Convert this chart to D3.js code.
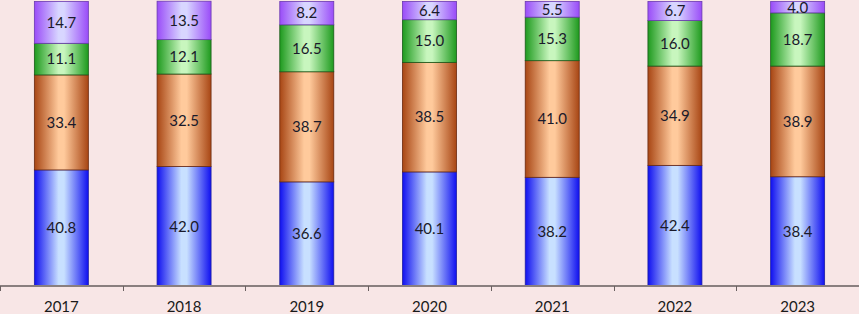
<!DOCTYPE html>
<html>
<head>
<meta charset="utf-8">
<script src="https://cdn.jsdelivr.net/npm/d3@7"></script>
<style>
  html, body { margin: 0; padding: 0; background: #f8e6e6; }
  svg { display: block; font-family: Lato, "Open Sans", sans-serif; }
</style>
</head>
<body>
<div id="chart"></div>
<script>
// Données
const years = ["2017", "2018", "2019", "2020", "2021", "2022", "2023"];
const serieBleu = [40.8, 42.0, 36.6, 40.1, 38.2, 42.4, 38.4];
const serieOrange = [33.4, 32.5, 38.7, 38.5, 41.0, 34.9, 38.9];
const serieVert = [11.1, 12.1, 16.5, 15.0, 15.3, 16.0, 18.7];
const serieViolet = [14.7, 13.5, 8.2, 6.4, 5.5, 6.7, 4.0];

const series = [
    { key: "bleu", values: serieBleu, edge: "#1010f0", mid: "#c8e0ff", stroke: "#2020a0" },
    { key: "orange", values: serieOrange, edge: "#a84614", mid: "#ffca9c", stroke: "#6a2a10" },
    { key: "vert", values: serieVert, edge: "#1e9a1e", mid: "#c8f6be", stroke: "#1a5a1a" },
    { key: "violet", values: serieViolet, edge: "#9a4cf8", mid: "#d8d6ff", stroke: "#6a3ab0" }
];

const width = 859;
const height = 314;
const baseY = 286;

const svg = d3.select("#chart")
    .append("svg")
    .attr("width", width)
    .attr("height", height);

// Dégradés horizontaux
const defs = svg.append("defs");
series.forEach(s => {
    const g = defs.append("linearGradient")
        .attr("id", "grad-" + s.key)
        .attr("x1", "0%").attr("x2", "100%")
        .attr("y1", "0%").attr("y2", "0%");
    g.append("stop").attr("offset", "0%").attr("stop-color", s.edge);
    g.append("stop").attr("offset", "45%").attr("stop-color", s.mid);
    g.append("stop").attr("offset", "55%").attr("stop-color", s.mid);
    g.append("stop").attr("offset", "100%").attr("stop-color", s.edge);
});

// Échelles
const scaleX = d3.scaleBand()
    .domain(years)
    .range([0, width])
    .paddingInner(0.56)
    .paddingOuter(0.28);

const scaleY = d3.scaleLinear()
    .domain([0, 100])
    .range([baseY, 1.5]);

// Empilement
const tidyData = years.map((y, i) => {
    const row = { year: y };
    series.forEach(s => row[s.key] = s.values[i]);
    return row;
});

const stack = d3.stack().keys(series.map(s => s.key));
const stacked = stack(tidyData);

const layers = svg.selectAll(".layer")
    .data(stacked)
    .join("g")
    .attr("class", "layer");

layers.each(function (layer, li) {
    const s = series[li];
    const g = d3.select(this);

    g.selectAll("rect")
        .data(layer)
        .join("rect")
        .attr("x", d => scaleX(d.data.year))
        .attr("y", d => scaleY(d[1]))
        .attr("width", scaleX.bandwidth())
        .attr("height", d => scaleY(d[0]) - scaleY(d[1]))
        .attr("fill", `url(#grad-${s.key})`)
        .attr("stroke", s.stroke)
        .attr("stroke-width", 0.8);

    g.selectAll("text")
        .data(layer)
        .join("text")
        .attr("x", d => scaleX(d.data.year) + scaleX.bandwidth() / 2)
        .attr("y", d => Math.max(8, (scaleY(d[0]) + scaleY(d[1])) / 2))
        .attr("dy", "0.35em")
        .attr("text-anchor", "middle")
        .attr("font-size", "15px")
        .attr("fill", "#1a1a2a")
        .text(d => d3.format(".1f")(d[1] - d[0]));
});

// Axe X
const axisG = svg.append("g")
    .attr("transform", `translate(0, ${baseY})`);

axisG.append("line")
    .attr("x1", 0).attr("x2", width)
    .attr("stroke", "#8a7f7f")
    .attr("stroke-width", 2);

const boundaries = d3.range(years.length + 1).map(i => i * width / years.length);

axisG.selectAll(".tick-mark")
    .data(boundaries)
    .join("line")
    .attr("class", "tick-mark")
    .attr("x1", d => Math.round(d) + 0.5)
    .attr("x2", d => Math.round(d) + 0.5)
    .attr("y1", 0)
    .attr("y2", 5)
    .attr("stroke", "#6a6060")
    .attr("stroke-width", 1);

axisG.selectAll(".tick-label")
    .data(years)
    .join("text")
    .attr("class", "tick-label")
    .attr("x", d => scaleX(d) + scaleX.bandwidth() / 2)
    .attr("y", 21)
    .attr("dy", "0.35em")
    .attr("text-anchor", "middle")
    .attr("font-size", "15px")
    .attr("fill", "#1a1a1a")
    .text(d => d);
</script>
</body>
</html>
